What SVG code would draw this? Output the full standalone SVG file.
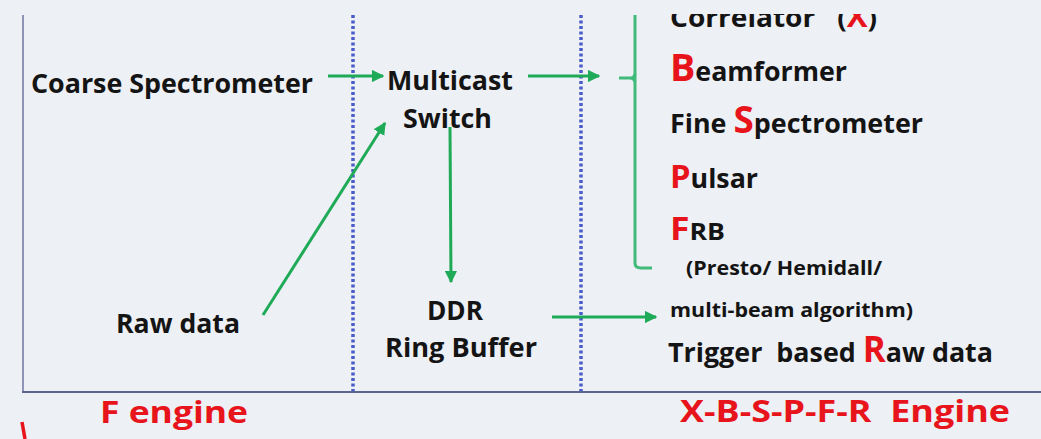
<svg xmlns="http://www.w3.org/2000/svg" width="1041" height="439" viewBox="0 0 1041 439">
<style>
.t{font-family:"Open Sans","Noto Sans","Liberation Sans",sans-serif;font-weight:700;fill:#141414;white-space:pre;}
.r{fill:#e8141c;}
.g{stroke:#1faa58;stroke-width:3;fill:none;}
.b{stroke:#40bb7a;stroke-width:3;fill:none;}
.d{stroke:#4a5cc8;stroke-width:3.5;stroke-dasharray:3 2.5;fill:none;}
</style>
<defs>
<marker id="ah" viewBox="0 0 10 10" refX="9" refY="5" markerWidth="4.2" markerHeight="4.2" orient="auto" markerUnits="strokeWidth">
<path d="M0,0 L10,5 L0,10 z" fill="#1faa58"/>
</marker>
<clipPath id="top"><rect x="0" y="14" width="1041" height="425"/></clipPath>
</defs>
<rect width="1041" height="439" fill="#edf0f4"/>
<g id="frame">
<line x1="23" y1="15" x2="23" y2="392" stroke="#8f93b4" stroke-width="2"/>
<line x1="22" y1="392" x2="1041" y2="392" stroke="#5a6590" stroke-width="2"/>
<line class="d" x1="353" y1="15" x2="353" y2="391"/>
<line class="d" x1="581" y1="15" x2="581" y2="391"/>
<path d="M22,422 L25,439" stroke="#e8141c" stroke-width="3.5" fill="none"/>
</g>
<g id="connectors">
<line class="g" x1="328" y1="76" x2="383" y2="76" marker-end="url(#ah)"/>
<line class="g" x1="528" y1="76" x2="599" y2="76" marker-end="url(#ah)"/>
<line class="g" x1="263" y1="315" x2="385" y2="123" marker-end="url(#ah)"/>
<line class="g" x1="450" y1="127" x2="451" y2="282" marker-end="url(#ah)"/>
<line class="g" x1="552" y1="317" x2="656" y2="317" marker-end="url(#ah)"/>
<path class="b" d="M635,15 L635,263 Q635,268 641,268 L652,268"/>
<path class="b" d="M619,78 L630,78 Q634,78 635,74 M630,78 Q634,78 635,82"/>
</g>
<g id="coarse"><text class="t" x="31" y="93" font-size="27" textLength="282" lengthAdjust="spacingAndGlyphs">Coarse Spectrometer</text></g>
<g id="switch">
<text class="t" x="387" y="90" font-size="27" textLength="126" lengthAdjust="spacingAndGlyphs">Multicast</text>
<text class="t" x="403" y="128" font-size="27" textLength="89" lengthAdjust="spacingAndGlyphs">Switch</text>
</g>
<g id="rawdata"><text class="t" x="116" y="333" font-size="27" textLength="124" lengthAdjust="spacingAndGlyphs">Raw data</text></g>
<g id="ddr">
<text class="t" x="427" y="320" font-size="27" textLength="56" lengthAdjust="spacingAndGlyphs">DDR</text>
<text class="t" x="385" y="357" font-size="27" textLength="152" lengthAdjust="spacingAndGlyphs">Ring Buffer</text>
</g>
<g id="engines">
<text class="t" xml:space="preserve" x="670" y="27" font-size="27" clip-path="url(#top)" textLength="207" lengthAdjust="spacingAndGlyphs">Correlator   (<tspan class="r" font-size="30">X</tspan>)</text>
<text class="t" x="670" y="81" font-size="27" textLength="177" lengthAdjust="spacingAndGlyphs"><tspan class="r" font-size="38">B</tspan>eamformer</text>
<text class="t" xml:space="preserve" x="670" y="133" font-size="27" textLength="253" lengthAdjust="spacingAndGlyphs">Fine <tspan class="r" font-size="37">S</tspan>pectrometer</text>
<text class="t" x="670" y="188" font-size="27" textLength="88" lengthAdjust="spacingAndGlyphs"><tspan class="r" font-size="33">P</tspan>ulsar</text>
<text class="t" x="670" y="240" font-size="24" textLength="55" lengthAdjust="spacingAndGlyphs"><tspan class="r" font-size="32">F</tspan>RB</text>
<text class="t" x="686" y="275" font-size="20" textLength="196" lengthAdjust="spacingAndGlyphs">(Presto/ Hemidall/</text>
<text class="t" x="670" y="317" font-size="19" textLength="243" lengthAdjust="spacingAndGlyphs">multi-beam algorithm)</text>
<text class="t" xml:space="preserve" x="668" y="362" font-size="27" textLength="325" lengthAdjust="spacingAndGlyphs">Trigger  based <tspan class="r" font-size="35">R</tspan>aw data</text>
</g>
<g id="labels">
<text class="t r" x="100" y="423" font-size="31" textLength="148" lengthAdjust="spacingAndGlyphs">F engine</text>
<text class="t r" xml:space="preserve" x="680" y="422" font-size="31" textLength="330" lengthAdjust="spacingAndGlyphs">X-B-S-P-F-R  Engine</text>
</g>
</svg>
